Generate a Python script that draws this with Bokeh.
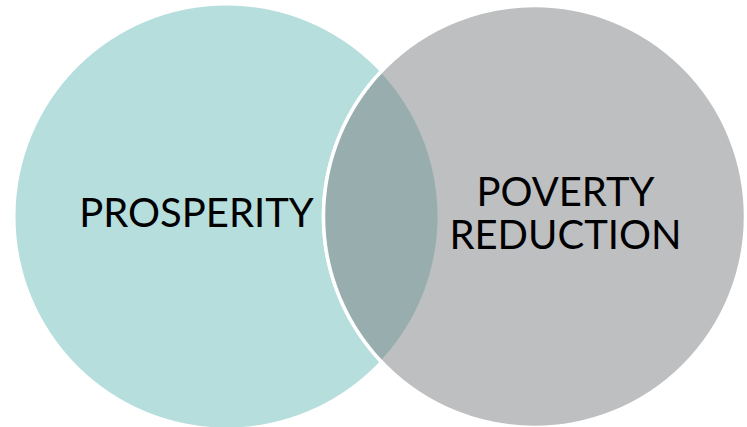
import numpy as np
from bokeh.plotting import figure
from bokeh.models import Range1d
from bokeh.core.properties import value
from bokeh.embed import file_html
from bokeh.resources import INLINE

# Data
circle_names = ["PROSPERITY", "POVERTY REDUCTION"]
centers_x = [226, 534]
centers_y = [216, 216]
radii = [211, 211]
colors = ["#B5DEDD", "#BEBFC1"]
overlap_color = "#98AEAE"
label_lines = ["PROSPERITY", "POVERTY", "REDUCTION"]
label_x = [196, 565, 565]
label_y = [211, 190, 233.5]

W, H = 747, 427
p = figure(width=W, height=H, output_backend="svg", toolbar_location=None,
           x_range=Range1d(0, W), y_range=Range1d(H, 0),
           min_border=0, outline_line_color=None)
p.axis.visible = False
p.grid.visible = False
p.background_fill_color = "white"
p.border_fill_color = "white"

# left circle
p.circle(x=[centers_x[0]], y=[centers_y[0]], radius=radii[0],
         fill_color=colors[0], line_color=None)
# right circle with white outline
p.circle(x=[centers_x[1]], y=[centers_y[1]], radius=radii[1],
         fill_color=colors[1], line_color="white", line_width=3.5)

# intersection lens
x1, y1, r1 = centers_x[0], centers_y[0], radii[0]
x2, y2, r2 = centers_x[1], centers_y[1], radii[1]
d = x2 - x1
a = (d**2 + r1**2 - r2**2) / (2 * d)
h = np.sqrt(r1**2 - a**2)
ang2 = np.arctan2(h, -(d - a))
t2 = np.linspace(ang2, 2 * np.pi - ang2, 120)
arc2x = x2 + r2 * np.cos(t2)
arc2y = y2 + r2 * np.sin(t2)
ang1 = np.arctan2(h, a)
t1 = np.linspace(-ang1, ang1, 120)
arc1x = x1 + r1 * np.cos(t1)
arc1y = y1 + r1 * np.sin(t1)
p.patch(x=np.concatenate([arc2x, arc1x]), y=np.concatenate([arc2y, arc1y]),
        fill_color=overlap_color, line_color=None)
p.line(x=arc2x, y=arc2y, line_color="white", line_width=3.5)

# labels
p.text(x=label_x, y=label_y, text=label_lines, text_align="center",
       text_baseline="middle", text_font=value("Lato"),
       text_font_size="40px", text_color="black")

open("out.html", "w").write(file_html(p, INLINE))
